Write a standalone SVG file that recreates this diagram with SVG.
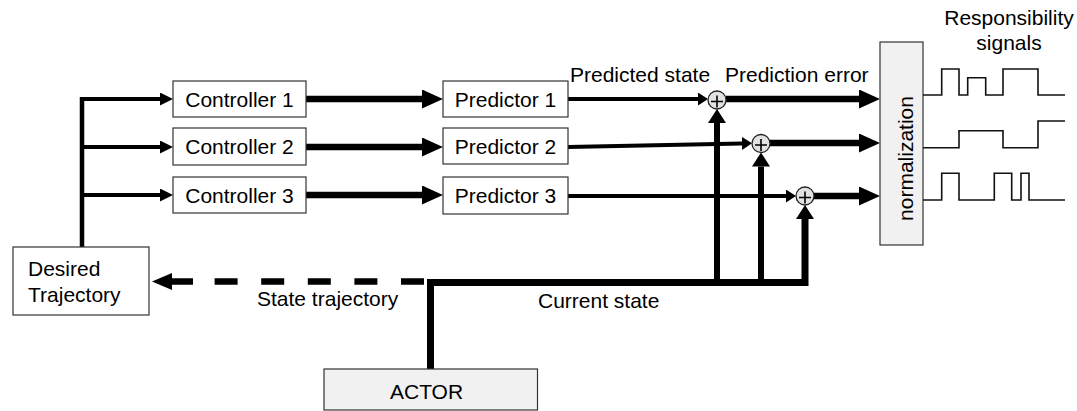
<svg xmlns="http://www.w3.org/2000/svg" width="1077" height="411" viewBox="0 0 1077 411">
  <style>
    text { font-family: "Liberation Sans", Arial, sans-serif; font-size: 21px; fill: #000; }
    .box { fill: #fff; stroke: #333; stroke-width: 1.2; }
    .gray { fill: #f1f1f1; stroke: #333; stroke-width: 1.2; }
    .mid { text-anchor: middle; }
    .wire { fill: none; stroke: #000; stroke-linejoin: miter; }
    .sum { fill: #e2e2e2; stroke: #222; stroke-width: 1.3; }
    .plus { stroke: #000; stroke-width: 1.6; fill: none; }
    .sig { fill: none; stroke: #111; stroke-width: 1.6; }
  </style>
  <defs>
    <!-- large head for the thick signal wires -->
    <marker id="headL" markerUnits="userSpaceOnUse" markerWidth="22" markerHeight="20" refX="0" refY="9.5" orient="auto">
      <path d="M0,0 L21,9.5 L0,19 z" fill="#000"/>
    </marker>
    <!-- medium head for the trajectory branches -->
    <marker id="headM" markerUnits="userSpaceOnUse" markerWidth="14" markerHeight="14" refX="0" refY="6.5" orient="auto">
      <path d="M0,0 L13,6.5 L0,13 z" fill="#000"/>
    </marker>
    <!-- small head into the summing junctions -->
    <marker id="headS" markerUnits="userSpaceOnUse" markerWidth="11" markerHeight="14" refX="0" refY="6.5" orient="auto">
      <path d="M0,0 L10,6.5 L0,13 z" fill="#000"/>
    </marker>
    <!-- wide head for the current-state risers -->
    <marker id="headU" markerUnits="userSpaceOnUse" markerWidth="15" markerHeight="19" refX="0" refY="9" orient="auto">
      <path d="M0,0 L14,9 L0,18 z" fill="#000"/>
    </marker>
    <!-- head for the dashed state trajectory feedback -->
    <marker id="headD" markerUnits="userSpaceOnUse" markerWidth="21" markerHeight="18" refX="0" refY="8.5" orient="auto">
      <path d="M0,0 L20,8.5 L0,17 z" fill="#000"/>
    </marker>
  </defs>

  <g id="connectors">
    <!-- desired trajectory fan-out to controllers -->
    <path class="wire" stroke-width="4.5" d="M82 247 V97" />
    <path class="wire" stroke-width="4" d="M80 99 H160" marker-end="url(#headM)"/>
    <path class="wire" stroke-width="4" d="M82 147 H160" marker-end="url(#headM)"/>
    <path class="wire" stroke-width="4" d="M82 195 H160" marker-end="url(#headM)"/>

    <!-- motor commands to predictors -->
    <path class="wire" stroke-width="6.5" d="M306 99 H422" marker-end="url(#headL)"/>
    <path class="wire" stroke-width="6.5" d="M306 147 H422" marker-end="url(#headL)"/>
    <path class="wire" stroke-width="6.5" d="M306 195 H422" marker-end="url(#headL)"/>

    <!-- predicted states into summing junctions -->
    <path class="wire" stroke-width="4" d="M568 99 H698" marker-end="url(#headS)"/>
    <path class="wire" stroke-width="4" d="M568 147 L742 143.5" marker-end="url(#headS)"/>
    <path class="wire" stroke-width="4" d="M568 196 H786" marker-end="url(#headS)"/>

    <!-- prediction errors into normalization -->
    <path class="wire" stroke-width="6.5" d="M726 99 H859" marker-end="url(#headL)"/>
    <path class="wire" stroke-width="6.5" d="M770 143 H859" marker-end="url(#headL)"/>
    <path class="wire" stroke-width="6.5" d="M814 196 H859" marker-end="url(#headL)"/>

    <!-- current state bus from the actor -->
    <path class="wire" stroke-width="7" d="M430.5 369 V282.5 H805 V219" marker-end="url(#headU)"/>
    <path class="wire" stroke-width="6" d="M717 286 V123" marker-end="url(#headU)"/>
    <path class="wire" stroke-width="6" d="M761 286 V166.5" marker-end="url(#headU)"/>

    <!-- state trajectory feedback (dashed) -->
    <path class="wire" stroke-width="6.5" stroke-dasharray="23 23.6" d="M424 281.5 H193"/>
    <path class="wire" stroke-width="6.5" d="M193 281.5 H172" marker-end="url(#headD)"/>
  </g>

  <g id="desired-trajectory">
    <rect class="box" x="13" y="247" width="136" height="68"/>
    <text x="28" y="276">Desired</text>
    <text x="28" y="302">Trajectory</text>
  </g>

  <g id="controller-1">
    <rect class="box" x="173" y="81" width="133" height="36"/>
    <text class="mid" x="239.5" y="106.5">Controller 1</text>
  </g>
  <g id="controller-2">
    <rect class="box" x="173" y="128" width="133" height="37"/>
    <text class="mid" x="239.5" y="154">Controller 2</text>
  </g>
  <g id="controller-3">
    <rect class="box" x="173" y="177" width="133" height="36"/>
    <text class="mid" x="239.5" y="202.5">Controller 3</text>
  </g>

  <g id="predictor-1">
    <rect class="box" x="443" y="81" width="125" height="36"/>
    <text class="mid" x="505.5" y="106.5">Predictor 1</text>
  </g>
  <g id="predictor-2">
    <rect class="box" x="443" y="128" width="125" height="36"/>
    <text class="mid" x="505.5" y="154">Predictor 2</text>
  </g>
  <g id="predictor-3">
    <rect class="box" x="443" y="177" width="125" height="37"/>
    <text class="mid" x="505.5" y="202.5">Predictor 3</text>
  </g>

  <g id="sum-1">
    <circle class="sum" cx="717" cy="100" r="9"/>
    <path class="plus" d="M711 101.5 H723 M717 95.5 V107.5"/>
  </g>
  <g id="sum-2">
    <circle class="sum" cx="761" cy="143.5" r="9"/>
    <path class="plus" d="M755 145 H767 M761 139 V151"/>
  </g>
  <g id="sum-3">
    <circle class="sum" cx="805" cy="196" r="9"/>
    <path class="plus" d="M799 197.5 H811 M805 191.5 V203.5"/>
  </g>

  <g id="normalization">
    <rect class="gray" x="880" y="42" width="43" height="203"/>
    <text class="mid" transform="translate(913 158.5) rotate(-90)">normalization</text>
  </g>

  <g id="responsibility-signals">
    <text class="mid" x="1009" y="25">Responsibility</text>
    <text class="mid" x="1009" y="50">signals</text>
    <path class="sig" d="M923 95 H941.7 V69 H959 V95 H967.7 V77.7 H985.7 V95 H1003 V69 H1038 V95 H1065"/>
    <path class="sig" d="M923 147.7 H959 V130.7 H1003 V147.7 H1038 V121 H1065"/>
    <path class="sig" d="M923 200 H941.7 V173.3 H959 V200 H994.3 V173.3 H1011.7 V200 H1021 V173.3 H1029 V200 H1065"/>
  </g>

  <g id="actor">
    <rect class="gray" x="324" y="369" width="213.5" height="41"/>
    <text x="390" y="399">ACTOR</text>
  </g>

  <g id="labels">
    <text x="570" y="82">Predicted state</text>
    <text x="725" y="82">Prediction error</text>
    <text x="257" y="306">State trajectory</text>
    <text x="538" y="308">Current state</text>
  </g>
</svg>
